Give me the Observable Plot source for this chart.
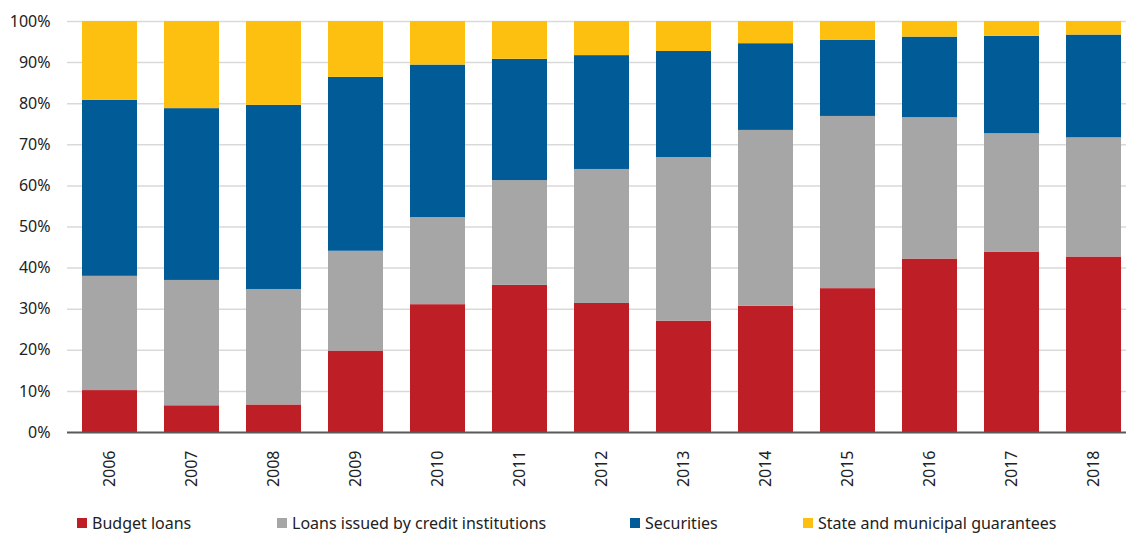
<!DOCTYPE html>
<html>
<head>
<meta charset="utf-8">
<script src="https://cdn.jsdelivr.net/npm/d3@7"></script>
<script src="https://cdn.jsdelivr.net/npm/@observablehq/plot@0.6"></script>
<style>
  body { margin: 0; background: #fff; font-family: "Noto Sans", sans-serif; }
  #wrap { position: relative; width: 1126px; height: 533px; }
  #legend { position: absolute; top: 512px; left: 0; width: 1126px; height: 20px; font-size: 16px; color: #222; }
  .item { position: absolute; top: 0; display: flex; align-items: center; white-space: nowrap; }
  .sw { width: 10px; height: 10px; margin-right: 5px; }
</style>
</head>
<body>
<div id="wrap">
  <div id="chart"></div>
  <div id="legend"></div>
</div>
<script>
const years = ["2006","2007","2008","2009","2010","2011","2012","2013","2014","2015","2016","2017","2018"];
const seriesNames = ["Budget loans", "Loans issued by credit institutions", "Securities", "State and municipal guarantees"];
const seriesColors = ["#BE1E26", "#A6A6A6", "#005B96", "#FDC010"];
const budgetLoans = [10.2, 6.5, 6.7, 19.8, 31.1, 35.8, 31.4, 27.1, 30.7, 35.0, 42.2, 43.9, 42.7];
const creditLoans = [27.8, 30.5, 28.1, 24.3, 21.2, 25.5, 32.6, 39.8, 42.8, 41.9, 34.4, 28.8, 29.0];
const securities  = [42.8, 41.8, 44.8, 42.3, 37.1, 29.5, 27.7, 25.8, 21.1, 18.5, 19.6, 23.7, 25.0];
const guarantees  = [19.2, 21.2, 20.4, 13.6, 10.6, 9.2, 8.3, 7.3, 5.4, 4.6, 3.8, 3.6, 3.3];
const yTicks = [0, 10, 20, 30, 40, 50, 60, 70, 80, 90, 100];
const legendX = [77, 277, 630, 803];

const seriesValues = [budgetLoans, creditLoans, securities, guarantees];
const data = [];
seriesNames.forEach((s, i) => years.forEach((y, j) => data.push({year: y, series: s, value: seriesValues[i][j]})));

const chart = Plot.plot({
  width: 1126,
  height: 505,
  marginTop: 21,
  marginBottom: 73,
  marginLeft: 67,
  marginRight: 0,
  style: { fontFamily: "Noto Sans, sans-serif", fontSize: "16px", color: "#222", background: "#fff" },
  x: { domain: years, range: [67.5, 1136], paddingInner: 0.33, paddingOuter: 0.165, label: null },
  y: { domain: [0, 100], label: null },
  color: { domain: seriesNames, range: seriesColors },
  marks: [
    Plot.ruleY(yTicks.filter(d => d > 0), { stroke: "#D9D9D9", strokeWidth: 1.5 }),
    Plot.barY(data, { x: "year", y: "value", fill: "series", order: seriesNames }),
    Plot.axisY(yTicks, { tickSize: 0, tickPadding: 17, tickFormat: d => d + "%", fontSize: 16, label: null }),
    Plot.axisX({ tickSize: 0, tickPadding: 18, tickRotate: -90, fontSize: 16, label: null }),
    Plot.ruleX([0], { x: () => 67, y1: 0, y2: 100, stroke: "#000", strokeWidth: 1.5 }),
    Plot.ruleY([0], { stroke: "#595959", strokeWidth: 2 })
  ]
});
document.getElementById("chart").appendChild(chart);

const legend = document.getElementById("legend");
seriesNames.forEach((s, i) => {
  const it = document.createElement("div");
  it.className = "item";
  it.style.left = legendX[i] + "px";
  it.innerHTML = `<div class="sw" style="background:${seriesColors[i]}"></div><span>${s}</span>`;
  legend.appendChild(it);
});
</script>
</body>
</html>
